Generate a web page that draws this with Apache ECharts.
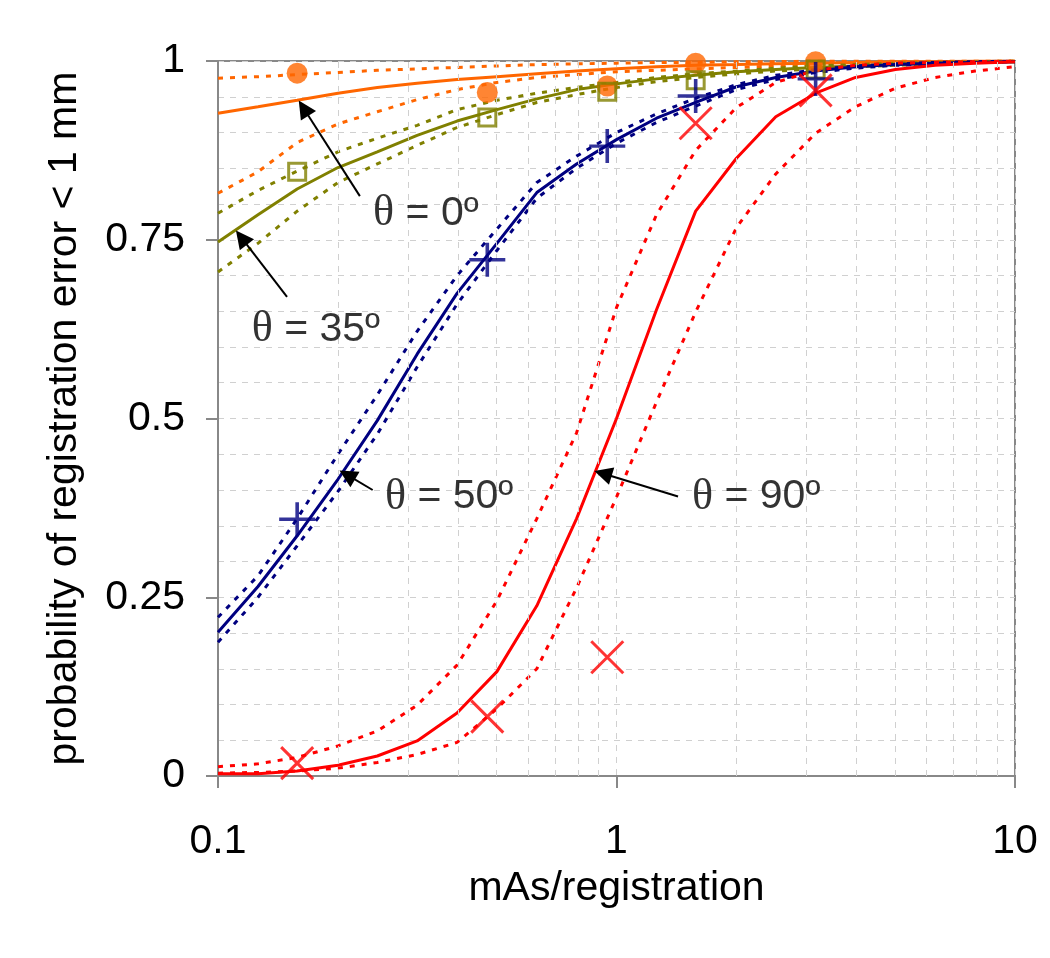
<!DOCTYPE html>
<html>
<head>
<meta charset="utf-8">
<script src="https://cdn.jsdelivr.net/npm/echarts@6/dist/echarts.min.js"></script>
<style>
html,body{margin:0;padding:0;background:#fff;}
#c{width:1050px;height:958px;}
</style>
</head>
<body>
<div id="c"></div>
<script>
// ---- data ----
const xs = [0.1, 0.126, 0.158, 0.2, 0.251, 0.316, 0.398, 0.501, 0.631, 0.794, 1, 1.26, 1.58, 2, 2.51, 3.16, 3.98, 5.01, 6.31, 7.94, 10];

const theta0Mid = [0.927,0.936,0.945,0.955,0.963,0.969,0.974,0.978,0.982,0.986,0.989,0.992,0.994,0.995,0.996,0.997,0.998,0.999,0.999,1.0,1.0];
const theta0Hi  = [0.976,0.978,0.981,0.984,0.987,0.989,0.991,0.993,0.995,0.996,0.997,0.998,0.998,0.999,0.999,1,1,1,1,1,1];
const theta0Lo  = [0.815,0.845,0.886,0.912,0.929,0.946,0.96,0.97,0.977,0.981,0.985,0.987,0.989,0.991,0.993,0.995,0.996,0.997,0.998,0.999,1.0];

const theta35Mid = [0.747,0.785,0.821,0.851,0.873,0.896,0.916,0.932,0.947,0.96,0.968,0.975,0.98,0.985,0.988,0.991,0.993,0.995,0.997,0.998,0.999];
const theta35Hi  = [0.787,0.819,0.846,0.873,0.892,0.91,0.932,0.945,0.955,0.963,0.97,0.977,0.982,0.986,0.99,0.993,0.995,0.997,0.998,0.999,1.0];
const theta35Lo  = [0.705,0.745,0.79,0.83,0.856,0.882,0.907,0.925,0.942,0.953,0.963,0.971,0.977,0.982,0.986,0.989,0.992,0.994,0.996,0.998,0.999];

const theta50Mid = [0.201,0.265,0.336,0.415,0.497,0.59,0.675,0.745,0.816,0.856,0.89,0.92,0.942,0.964,0.977,0.986,0.992,0.995,0.997,0.998,0.999];
const theta50Hi  = [0.222,0.28,0.36,0.45,0.533,0.622,0.7,0.765,0.83,0.867,0.9,0.926,0.948,0.967,0.98,0.988,0.993,0.996,0.998,0.999,1.0];
const theta50Lo  = [0.187,0.25,0.322,0.398,0.478,0.572,0.66,0.735,0.808,0.85,0.885,0.914,0.937,0.96,0.974,0.984,0.99,0.994,0.996,0.998,0.999];

const theta90Mid = [0.003,0.003,0.007,0.015,0.028,0.049,0.088,0.146,0.238,0.36,0.5,0.652,0.79,0.864,0.922,0.955,0.977,0.988,0.994,0.997,0.999];
const theta90Hi  = [0.013,0.017,0.026,0.042,0.063,0.099,0.155,0.245,0.36,0.48,0.655,0.785,0.875,0.935,0.97,0.987,0.994,0.997,0.998,0.999,1.0];
const theta90Lo  = [0.004,0.005,0.007,0.011,0.019,0.03,0.047,0.094,0.15,0.263,0.39,0.523,0.649,0.767,0.842,0.899,0.936,0.962,0.977,0.986,0.992];

const markerX = [0.158, 0.474, 0.948, 1.58, 3.16];
const theta0Pts  = [0.983, 0.956, 0.965, 0.997, 0.999];
const theta35Pts = [0.845, 0.921, 0.957, 0.973, 0.988];
const theta50Pts = [0.359, 0.722, 0.881, 0.951, 0.975];
const theta90Pts = [0.018, 0.083, 0.166, 0.913, 0.959];

const yTicks = [0, 0.25, 0.5, 0.75, 1];
const minorXGrid = [0.2,0.3,0.4,0.5,0.6,0.7,0.8,0.9,2,3,4,5,6,7,8,9];

const annText = ['0º', '35º', '50º', '90º'];
const annTextPos = [[0.245,0.787],[0.1215,0.6245],[0.2624,0.390],[1.547,0.390]];
const annArrowTail = [[0.227,0.811],[0.149,0.670],[0.2444,0.400],[1.427,0.391]];
const annArrowTip  = [[0.164,0.934],[0.1145,0.753],[0.211,0.421],[0.925,0.423]];

// ---- build ----
const pair = (ys) => xs.map((x, i) => [x, ys[i]]);
const mpair = (ys) => markerX.map((x, i) => [x, ys[i]]);
const FONT = "'Liberation Sans', Arial, sans-serif";

function lineSeries(ys, color, dashed) {
  return {
    type: 'line', data: pair(ys), showSymbol: false, symbol: 'none', smooth: false,
    lineStyle: { color: color, width: 3, type: dashed ? [5, 7] : 'solid' },
    z: 3, silent: true
  };
}

const series = [];
series.push({
  type: 'line', data: [], silent: true, z: 1,
  markLine: {
    silent: true, symbol: ['none', 'none'], animation: false,
    label: { show: false },
    lineStyle: { color: '#d0d0d0', width: 1, type: [6, 6] },
    data: minorXGrid.map(v => ({ xAxis: v }))
  }
});

const groups = [
  [theta0Mid, theta0Hi, theta0Lo, '#FF6600'],
  [theta35Mid, theta35Hi, theta35Lo, '#808000'],
  [theta50Mid, theta50Hi, theta50Lo, '#000080'],
  [theta90Mid, theta90Hi, theta90Lo, '#FF0000']
];
groups.forEach(g => {
  series.push(lineSeries(g[1], g[3], true));
  series.push(lineSeries(g[2], g[3], true));
  series.push(lineSeries(g[0], g[3], false));
});

series.push({
  type: 'scatter', data: mpair(theta0Pts), symbol: 'circle', symbolSize: 21, z: 5, silent: true,
  itemStyle: { color: '#FF6600' }
});
series.push({
  type: 'scatter', data: mpair(theta35Pts), symbol: 'rect', symbolSize: 17, z: 5, silent: true,
  itemStyle: { color: 'rgba(0,0,0,0)', borderColor: '#808000', borderWidth: 3 }
});
series.push({
  type: 'scatter', data: mpair(theta50Pts), symbol: 'path://M16,0 L16,32 M0,16 L32,16', symbolSize: [36, 34], z: 5, silent: true,
  itemStyle: { color: 'rgba(0,0,0,0)', borderColor: '#000080', borderWidth: 3.5 }
});
series.push({
  type: 'scatter', data: mpair(theta90Pts), symbol: 'path://M0,0 L32,32 M32,0 L0,32', symbolSize: [32, 32], z: 5, silent: true,
  itemStyle: { color: 'rgba(0,0,0,0)', borderColor: '#FF0000', borderWidth: 3 }
});

// annotation arrows
series.push({
  type: 'line', data: [], silent: true, z: 6,
  markLine: {
    silent: true, animation: false,
    symbol: ['none', 'triangle'], symbolSize: 18,
    label: { show: false },
    lineStyle: { color: '#000', width: 2, type: 'solid' },
    itemStyle: { color: '#000' },
    data: annArrowTail.map((t, i) => [{ coord: t }, { coord: annArrowTip[i] }])
  }
});
// annotation texts
series.push({
  type: 'scatter', silent: true, z: 7, symbolSize: 0,
  data: annTextPos.map(p => p),
  label: {
    show: true, position: 'right', distance: 0,
    formatter: (p) => '{t|θ}{s| = ' + annText[p.dataIndex] + '}',
    rich: {
      t: { fontFamily: "'Liberation Serif', 'Times New Roman', serif", fontSize: 44, color: '#000' },
      s: { fontFamily: FONT, fontSize: 41, color: '#000' }
    }
  }
});

const chart = echarts.init(document.getElementById('c'), null, { renderer: 'canvas' });
chart.setOption({
  animation: false,
  backgroundColor: '#fff',
  grid: { left: 218, right: 35, top: 61, bottom: 182, show: true, borderColor: '#888', borderWidth: 2, backgroundColor: 'rgba(0,0,0,0)' },
  xAxis: {
    type: 'log', logBase: 10, min: 0.1, max: 10,
    name: 'mAs/registration', nameLocation: 'middle', nameGap: 92,
    nameTextStyle: { fontSize: 41, color: '#000', fontFamily: FONT },
    axisLine: { show: true, lineStyle: { color: '#888', width: 2 } },
    axisTick: { show: true, length: 12, lineStyle: { color: '#888', width: 2 } },
    axisLabel: { fontSize: 41, color: '#000', fontFamily: FONT, margin: 45,
      formatter: (v) => String(+v.toPrecision(3)) },
    splitLine: { show: true, lineStyle: { color: '#d0d0d0', width: 1, type: [6, 6] } },
    minorTick: { show: false }, minorSplitLine: { show: false }
  },
  yAxis: {
    type: 'value', min: yTicks[0], max: yTicks[yTicks.length - 1], interval: yTicks[1] - yTicks[0],
    name: 'probability of registration error < 1 mm', nameLocation: 'middle', nameGap: 133,
    nameTextStyle: { fontSize: 41, color: '#000', fontFamily: FONT },
    axisLine: { show: true, lineStyle: { color: '#888', width: 2 } },
    axisTick: { show: true, length: 12, lineStyle: { color: '#888', width: 2 } },
    axisLabel: { fontSize: 41, color: '#000', fontFamily: FONT, margin: 33 },
    splitLine: { show: true, lineStyle: { color: '#d0d0d0', width: 1, type: [6, 6] } },
    minorTick: { show: false, splitNumber: 5 },
    minorSplitLine: { show: true, lineStyle: { color: '#d0d0d0', width: 1, type: [6, 6] } }
  },
  series: series
});
</script>
</body>
</html>
